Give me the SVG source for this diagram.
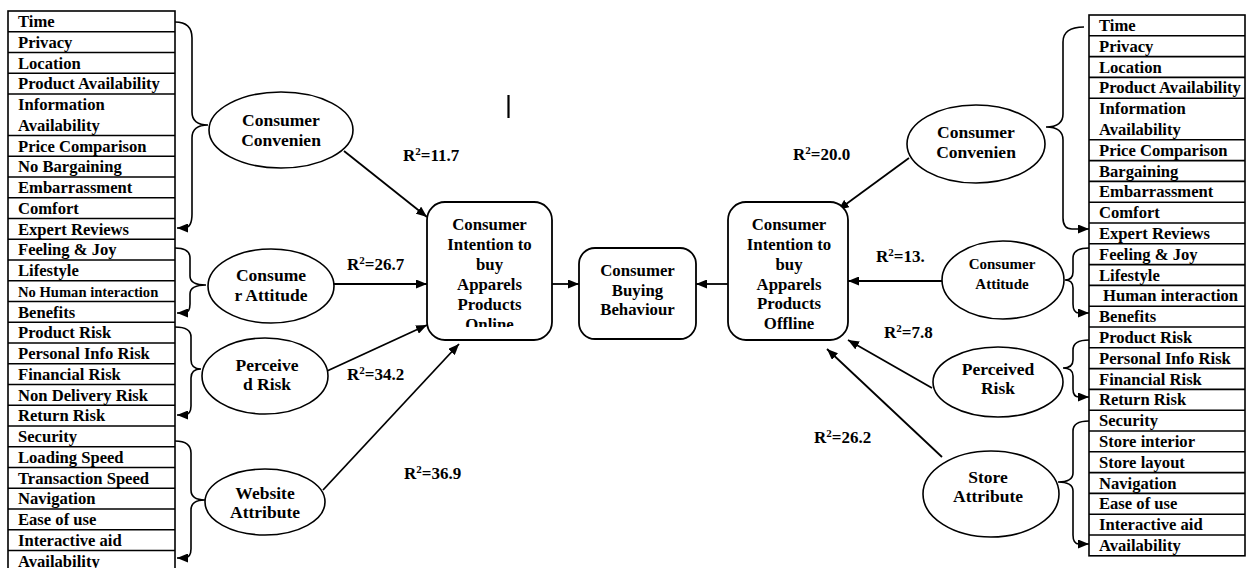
<svg xmlns="http://www.w3.org/2000/svg" width="1246" height="568" viewBox="0 0 1246 568">
<style>
text{font-family:"Liberation Serif","Times New Roman",serif;font-weight:bold;fill:#000}
.t{font-size:16.6px}
.n{font-size:17.5px;text-anchor:middle}
.b{font-size:16.8px;text-anchor:middle}
.r{font-size:17px}
.tbl{fill:#fff;stroke:#000;stroke-width:1.6}
.rl{stroke:#000;stroke-width:1.6}
.el{fill:#fff;stroke:#000;stroke-width:1.6}
.bx{fill:#fff;stroke:#000;stroke-width:1.8}
.br{fill:none;stroke:#000;stroke-width:1.6;marker-end:url(#ah)}
.cn{fill:none;stroke:#000;stroke-width:1.8;marker-end:url(#ah)}
</style>
<defs>
<marker id="ah" markerUnits="userSpaceOnUse" markerWidth="11" markerHeight="9" refX="11" refY="4.5" orient="auto"><path d="M0,0 L11,4.5 L0,9 z" fill="#000"/></marker>
<clipPath id="clipOn"><rect x="427" y="200" width="126" height="127"/></clipPath>
</defs>
<rect width="1246" height="568" fill="#fff"/>

<g id="left-table">
<rect class="tbl" x="8" y="11" width="167" height="562"/>
<g class="rl">
<line x1="8" y1="31.75" x2="175" y2="31.75"/><line x1="8" y1="52.5" x2="175" y2="52.5"/><line x1="8" y1="73.25" x2="175" y2="73.25"/><line x1="8" y1="94" x2="175" y2="94"/><line x1="8" y1="135.5" x2="175" y2="135.5"/><line x1="8" y1="156.25" x2="175" y2="156.25"/><line x1="8" y1="177" x2="175" y2="177"/><line x1="8" y1="197.75" x2="175" y2="197.75"/><line x1="8" y1="218.5" x2="175" y2="218.5"/><line x1="8" y1="239.25" x2="175" y2="239.25"/><line x1="8" y1="260" x2="175" y2="260"/><line x1="8" y1="280.75" x2="175" y2="280.75"/><line x1="8" y1="301.5" x2="175" y2="301.5"/><line x1="8" y1="322.25" x2="175" y2="322.25"/><line x1="8" y1="343" x2="175" y2="343"/><line x1="8" y1="363.75" x2="175" y2="363.75"/><line x1="8" y1="384.5" x2="175" y2="384.5"/><line x1="8" y1="405.25" x2="175" y2="405.25"/><line x1="8" y1="426" x2="175" y2="426"/><line x1="8" y1="446.75" x2="175" y2="446.75"/><line x1="8" y1="467.5" x2="175" y2="467.5"/><line x1="8" y1="488.25" x2="175" y2="488.25"/><line x1="8" y1="509" x2="175" y2="509"/><line x1="8" y1="529.75" x2="175" y2="529.75"/><line x1="8" y1="550.5" x2="175" y2="550.5"/>
</g>
<text class="t" x="18" y="27">Time</text>
<text class="t" x="18" y="47.75">Privacy</text>
<text class="t" x="18" y="68.5">Location</text>
<text class="t" x="18" y="89.25">Product Availability</text>
<text class="t" x="18" y="110">Information</text>
<text class="t" x="18" y="130.75">Availability</text>
<text class="t" x="18" y="151.5">Price Comparison</text>
<text class="t" x="18" y="172.25">No Bargaining</text>
<text class="t" x="18" y="193">Embarrassment</text>
<text class="t" x="18" y="213.75">Comfort</text>
<text class="t" x="18" y="234.5">Expert Reviews</text>
<text class="t" x="18" y="255.25">Feeling &amp; Joy</text>
<text class="t" x="18" y="276">Lifestyle</text>
<text class="t" x="18" y="296.5" style="font-size:14.6px">No Human interaction</text>
<text class="t" x="18" y="317.5">Benefits</text>
<text class="t" x="18" y="338.25">Product Risk</text>
<text class="t" x="18" y="359">Personal Info Risk</text>
<text class="t" x="18" y="379.75">Financial Risk</text>
<text class="t" x="18" y="400.5">Non Delivery Risk</text>
<text class="t" x="18" y="421.25">Return Risk</text>
<text class="t" x="18" y="442">Security</text>
<text class="t" x="18" y="462.75">Loading Speed</text>
<text class="t" x="18" y="483.5">Transaction Speed</text>
<text class="t" x="18" y="504.25">Navigation</text>
<text class="t" x="18" y="525">Ease of use</text>
<text class="t" x="18" y="545.75">Interactive aid</text>
<text class="t" x="18" y="566.5">Availability</text>
</g>

<g id="right-table">
<rect class="tbl" x="1089" y="15" width="156" height="540.8"/>
<g class="rl">
<line x1="1089" y1="35.8" x2="1245" y2="35.8"/><line x1="1089" y1="56.6" x2="1245" y2="56.6"/><line x1="1089" y1="77.4" x2="1245" y2="77.4"/><line x1="1089" y1="98.2" x2="1245" y2="98.2"/><line x1="1089" y1="139.8" x2="1245" y2="139.8"/><line x1="1089" y1="160.6" x2="1245" y2="160.6"/><line x1="1089" y1="181.4" x2="1245" y2="181.4"/><line x1="1089" y1="202.2" x2="1245" y2="202.2"/><line x1="1089" y1="223" x2="1245" y2="223"/><line x1="1089" y1="243.8" x2="1245" y2="243.8"/><line x1="1089" y1="264.6" x2="1245" y2="264.6"/><line x1="1089" y1="285.4" x2="1245" y2="285.4"/><line x1="1089" y1="306.2" x2="1245" y2="306.2"/><line x1="1089" y1="327" x2="1245" y2="327"/><line x1="1089" y1="347.8" x2="1245" y2="347.8"/><line x1="1089" y1="368.6" x2="1245" y2="368.6"/><line x1="1089" y1="389.4" x2="1245" y2="389.4"/><line x1="1089" y1="410.2" x2="1245" y2="410.2"/><line x1="1089" y1="431" x2="1245" y2="431"/><line x1="1089" y1="451.8" x2="1245" y2="451.8"/><line x1="1089" y1="472.6" x2="1245" y2="472.6"/><line x1="1089" y1="493.4" x2="1245" y2="493.4"/><line x1="1089" y1="514.2" x2="1245" y2="514.2"/><line x1="1089" y1="535" x2="1245" y2="535"/>
</g>
<text class="t" x="1099" y="31">Time</text>
<text class="t" x="1099" y="51.8">Privacy</text>
<text class="t" x="1099" y="72.6">Location</text>
<text class="t" x="1099" y="93.4">Product Availability</text>
<text class="t" x="1099" y="114.2">Information</text>
<text class="t" x="1099" y="135">Availability</text>
<text class="t" x="1099" y="155.8">Price Comparison</text>
<text class="t" x="1099" y="176.6">Bargaining</text>
<text class="t" x="1099" y="197.4">Embarrassment</text>
<text class="t" x="1099" y="218.2">Comfort</text>
<text class="t" x="1099" y="239">Expert Reviews</text>
<text class="t" x="1099" y="259.8">Feeling &amp; Joy</text>
<text class="t" x="1099" y="280.6">Lifestyle</text>
<text class="t" x="1103" y="301.4">Human interaction</text>
<text class="t" x="1099" y="322.2">Benefits</text>
<text class="t" x="1099" y="343">Product Risk</text>
<text class="t" x="1099" y="363.8">Personal Info Risk</text>
<text class="t" x="1099" y="384.6">Financial Risk</text>
<text class="t" x="1099" y="405.4">Return Risk</text>
<text class="t" x="1099" y="426.2">Security</text>
<text class="t" x="1099" y="447">Store interior</text>
<text class="t" x="1099" y="467.8">Store layout</text>
<text class="t" x="1099" y="488.6">Navigation</text>
<text class="t" x="1099" y="509.4">Ease of use</text>
<text class="t" x="1099" y="530.2">Interactive aid</text>
<text class="t" x="1099" y="551">Availability</text>
</g>

<g id="connectors">
<path class="br" d="M175,22 Q192,22 192,38 L192,112 Q192,125 208,125 Q192,125 192,138 L192,214 Q192,228 184,228 L177,228"/>
<path class="br" d="M175,248 Q190,248 190,258 L190,276 Q190,285 206,285 Q190,285 190,294 L190,304 Q190,313 184,313 L177,313"/>
<path class="br" d="M175,327 Q191,327 191,337 L191,360 Q191,369 201,369 Q191,369 191,378 L191,406 Q191,415 184,415 L177,415"/>
<path class="br" d="M175,441 Q191,441 191,453 L191,490 Q191,500 205,500 Q191,500 191,510 L191,549 Q191,558 184,558 L177,558"/>
<path class="br" d="M1084,27 Q1063,27 1063,42 L1063,114 Q1063,127 1046,127 Q1063,127 1063,140 L1063,218 Q1063,229 1072,229 L1089,229"/>
<path class="br" d="M1089,248 Q1073,248 1073,258 L1073,272 Q1073,280 1065,280 Q1073,280 1073,288 L1073,304 Q1073,313 1079,313 L1089,313"/>
<path class="br" d="M1089,340 Q1073,340 1073,350 L1073,360 Q1073,368 1063,368 Q1073,368 1073,376 L1073,389 Q1073,397 1079,397 L1089,397"/>
<path class="br" d="M1089,421 Q1073,421 1073,431 L1073,473 Q1073,482 1058,482 Q1073,482 1073,491 L1073,535 Q1073,544 1079,544 L1089,544"/>
<line class="cn" x1="344" y1="151" x2="427" y2="217"/>
<line class="cn" x1="334" y1="284" x2="427" y2="284"/>
<line class="cn" x1="327" y1="371" x2="427" y2="325"/>
<line class="cn" x1="323" y1="490" x2="459" y2="344"/>
<line class="cn" x1="552" y1="284" x2="579" y2="284"/>
<line class="cn" x1="728" y1="284" x2="696" y2="284"/>
<line class="cn" x1="909" y1="158" x2="838" y2="210"/>
<line class="cn" x1="942" y1="281" x2="848" y2="281"/>
<line class="cn" x1="932" y1="388" x2="848" y2="340"/>
<line class="cn" x1="942" y1="457" x2="827" y2="349"/>
</g>

<g id="consumer-convenience-left">
<ellipse class="el" cx="281" cy="130" rx="72" ry="38"/>
<text class="n" x="281" y="126">Consumer</text>
<text class="n" x="281" y="146">Convenien</text>
</g>
<g id="consumer-attitude-left">
<ellipse class="el" cx="271" cy="286" rx="63" ry="37"/>
<text class="n" x="271" y="281">Consume</text>
<text class="n" x="271" y="301">r Attitude</text>
</g>
<g id="perceived-risk-left">
<ellipse class="el" cx="265" cy="376" rx="63" ry="38"/>
<text class="n" x="267" y="371">Perceive</text>
<text class="n" x="267" y="390">d Risk</text>
</g>
<g id="website-attribute-left">
<ellipse class="el" cx="265" cy="502" rx="60" ry="33"/>
<text class="n" x="265" y="499">Website</text>
<text class="n" x="265" y="518">Attribute</text>
</g>

<g id="consumer-convenience-right">
<ellipse class="el" cx="976" cy="144" rx="69" ry="39"/>
<text class="n" x="976" y="138">Consumer</text>
<text class="n" x="976" y="158">Convenien</text>
</g>
<g id="consumer-attitude-right">
<ellipse class="el" cx="1003" cy="280" rx="61" ry="39"/>
<text class="n" x="1002" y="269" style="font-size:15px">Consumer</text>
<text class="n" x="1002" y="289" style="font-size:15px">Attitude</text>
</g>
<g id="perceived-risk-right">
<ellipse class="el" cx="998" cy="382" rx="65" ry="35"/>
<text class="n" x="998" y="375">Perceived</text>
<text class="n" x="998" y="394">Risk</text>
</g>
<g id="store-attribute-right">
<ellipse class="el" cx="991" cy="494" rx="68" ry="43"/>
<text class="n" x="988" y="483">Store</text>
<text class="n" x="988" y="502">Attribute</text>
</g>

<g id="intention-online">
<rect class="bx" x="427" y="202" width="125" height="138" rx="18"/>
<text class="b" x="489.5" y="230">Consumer</text>
<text class="b" x="489.5" y="250">Intention to</text>
<text class="b" x="489.5" y="270">buy</text>
<text class="b" x="489.5" y="290">Apparels</text>
<text class="b" x="489.5" y="310">Products</text>
<text class="b" x="489.5" y="330" clip-path="url(#clipOn)">Online</text>
</g>
<g id="buying-behaviour">
<rect class="bx" x="579" y="248" width="117" height="91" rx="16"/>
<text class="b" x="637.5" y="276">Consumer</text>
<text class="b" x="637.5" y="296">Buying</text>
<text class="b" x="637.5" y="315">Behaviour</text>
</g>
<g id="intention-offline">
<rect class="bx" x="728" y="202" width="120" height="138" rx="18"/>
<text class="b" x="789" y="230">Consumer</text>
<text class="b" x="789" y="250">Intention to</text>
<text class="b" x="789" y="270">buy</text>
<text class="b" x="789" y="290">Apparels</text>
<text class="b" x="789" y="309">Products</text>
<text class="b" x="789" y="329">Offline</text>
</g>

<g id="labels">
<text class="r" x="403" y="161">R<tspan font-size="11" dy="-6">2</tspan><tspan dy="6">=11.7</tspan></text>
<text class="r" x="347" y="270">R<tspan font-size="11" dy="-6">2</tspan><tspan dy="6">=26.7</tspan></text>
<text class="r" x="347" y="380">R<tspan font-size="11" dy="-6">2</tspan><tspan dy="6">=34.2</tspan></text>
<text class="r" x="404" y="479">R<tspan font-size="11" dy="-6">2</tspan><tspan dy="6">=36.9</tspan></text>
<text class="r" x="793" y="160">R<tspan font-size="11" dy="-6">2</tspan><tspan dy="6">=20.0</tspan></text>
<text class="r" x="876" y="262">R<tspan font-size="11" dy="-6">2</tspan><tspan dy="6">=13.</tspan></text>
<text class="r" x="884" y="338">R<tspan font-size="11" dy="-6">2</tspan><tspan dy="6">=7.8</tspan></text>
<text class="r" x="814" y="443">R<tspan font-size="11" dy="-6">2</tspan><tspan dy="6">=26.2</tspan></text>
</g>
<line x1="508.5" y1="95" x2="508.5" y2="118" stroke="#000" stroke-width="2.2"/>
</svg>
